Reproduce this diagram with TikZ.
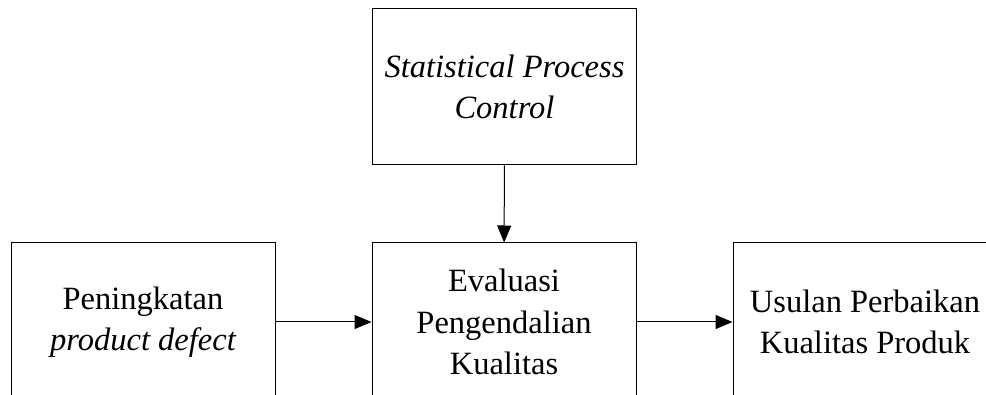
\documentclass[tikz,border=0pt]{standalone}
\usepackage{fontspec}
\setmainfont{Liberation Serif}
\usetikzlibrary{arrows.meta}
\begin{document}
\begin{tikzpicture}[x=1pt,y=-1pt,
  box/.style={draw=black,line width=1pt,minimum width=264pt,align=center,inner sep=0pt,
    font=\fontsize{32.5}{41.5}\selectfont},
  conn/.style={draw=black,line width=1pt,-{Triangle[length=17pt,width=14pt]}}]
\useasboundingbox (0,0) rectangle (986,395);
\clip (0,0) rectangle (986,395);
\fill[white] (0,0) rectangle (986,395);
\node[box,minimum height=156pt] (spc) at (504.5,87) {\itshape Statistical Process\\\itshape Control};
\node[box,minimum height=158pt] (pen) at (143,322) {Peningkatan\\\itshape product defect};
\node[box,minimum height=158pt] (eva) at (504,322) {Evaluasi\\Pengendalian\\Kualitas};
\node[box,minimum height=158pt] (usu) at (865,322) {Usulan Perbaikan\\Kualitas Produk};
\draw[conn] (spc) -- (eva);
\draw[conn] (pen) -- (eva);
\draw[conn] (eva) -- (usu);
\end{tikzpicture}
\end{document}
